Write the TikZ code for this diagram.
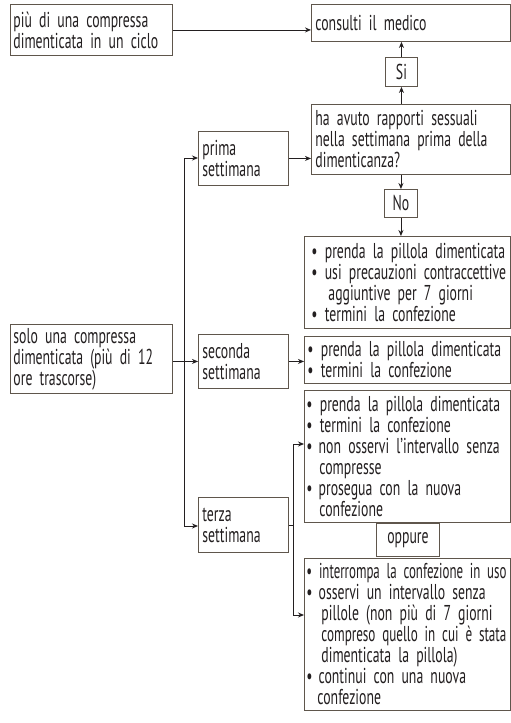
\documentclass[tikz,border=0pt]{standalone}
\usepackage{fontspec}
\usepackage{graphicx}
\setmainfont{PT Sans}[FakeStretch=0.64]
\usetikzlibrary{arrows.meta,calc}
\definecolor{ink}{RGB}{35,31,32}
\definecolor{edge}{RGB}{95,86,76}
\hyphenpenalty=10000
\spaceskip=3pt plus 2pt minus 1pt
\newcommand{\jl}[1]{\makebox[\linewidth][s]{#1}}
\newcommand{\fitline}[2]{\resizebox{#1}{\height}{#2}}
\tikzset{
  box/.style={draw=edge, line width=0.9pt, anchor=north west, inner ysep=0pt, inner xsep=4pt, align=left, text=ink,
     font=\fontsize{21.5}{21}\selectfont},
  con/.style={draw=ink, line width=0.9pt},
  arr/.style={con, -{Stealth[length=6pt,width=5pt]}},
}
\begin{document}
\begin{tikzpicture}[x=1pt,y=-1pt]
\useasboundingbox[fill=white] (0,0) rectangle (511,723);
\node[box, minimum width=162pt, minimum height=51pt, text width=156pt, inner xsep=3pt] (A) at (10,4) {più di una compressa\\dimenticata in un ciclo};
\node[box, minimum width=199pt, minimum height=37pt, text width=191pt] (cons) at (311,4) {consulti il medico};
\node[box, minimum width=32pt, minimum height=29pt, align=center, inner xsep=0pt] (si) at (385,57) {Si};
\node[box, minimum width=199pt, minimum height=70pt, text width=191pt] (q) at (311,104) {\jl{ha avuto rapporti sessuali}\\\jl{nella settimana prima della}\\dimenticanza?};
\node[box, minimum width=33pt, minimum height=28pt, align=center, inner xsep=0pt] (no) at (384,189) {No};
\node[box, minimum width=206pt, minimum height=92pt, text width=202pt, inner xsep=2pt] (L1) at (304,236) {\hspace*{5pt}• prenda la pillola dimenticata\\\hspace*{5pt}• usi precauzioni contraccettive\\\hspace*{22pt}aggiuntive per 7 giorni\\\hspace*{5pt}• termini la confezione};
\node[box, minimum width=90pt, minimum height=54pt, text width=82pt] (prima) at (198,131) {prima\\settimana};
\node[box, minimum width=162pt, minimum height=69pt, text width=156pt, inner xsep=3pt] (solo) at (10,324) {solo una compressa\\\jl{dimenticata (più di 12}\\ore trascorse)};
\node[box, minimum width=90pt, minimum height=54pt, text width=82pt] (sec) at (198,334) {seconda\\settimana};
\node[box, minimum width=206pt, minimum height=47pt, text width=202pt, inner xsep=2pt] (L2) at (304,336) {\hspace*{1pt}• prenda la pillola dimenticata\\\hspace*{1pt}• termini la confezione};
\node[box, minimum width=90pt, minimum height=55pt, text width=82pt] (terza) at (198,497) {terza\\settimana};
\node[box, minimum width=206pt, minimum height=132pt, text width=202pt, inner xsep=2pt] (L3) at (304,390) {• prenda la pillola dimenticata\\• termini la confezione\\•\hspace{6pt}non osservi l’intervallo senza\\\hspace*{13pt}compresse\\•\hspace{6pt}prosegua con la nuova\\\hspace*{13pt}confezione};
\node[box, minimum width=63pt, minimum height=33pt, align=center, inner xsep=0pt] (opp) at (376,523) {oppure};
\node[box, minimum width=206pt, minimum height=152pt, text width=202pt, inner xsep=2pt] (L4) at (304,558) {\fitline{200pt}{• interrompa la confezione in uso}\\\makebox[200pt][s]{•\hspace{6pt}osservi un intervallo senza}\\\hspace*{15pt}\makebox[185pt][s]{pillole (non più di 7 giorni}\\\hspace*{15pt}\fitline{185pt}{compreso quello in cui è stata}\\\hspace*{15pt}dimenticata la pillola)\\\makebox[200pt][s]{•\hspace{6pt}continui con una nuova}\\\hspace*{11pt}confezione};
% connectors
\draw[arr] (A.east) -- (A.east -| cons.west);
\draw[arr] (q.north -| si.south) -- (si.south);
\draw[arr] (si.north) -- (si.north |- cons.south);
\draw[arr] (no.north |- q.south) -- (no.north);
\draw[arr] (no.south) -- (no.south |- L1.north);
\draw[arr] (prima.east) -- (prima.east -| q.west);
\draw[arr] (sec.east) -- (sec.east -| L2.west);
\coordinate (s1) at (184,158);
\coordinate (s3) at (184,526);
\draw[con] (s1) -- (s3);
\draw[con] (solo.east |- sec.west) -- (sec.west -| s1);
\draw[arr] (sec.west -| s1) -- (sec.west);
\draw[arr] (s1) -- (s1 -| prima.west);
\draw[arr] (s3) -- (s3 -| terza.west);
\coordinate (t3) at (293,444);
\coordinate (t4) at (293,615);
\draw[con] (t3) -- (t4);
\draw[con] (terza.east) -- (terza.east -| t3);
\draw[arr] (t3) -- (t3 -| L3.west);
\draw[arr] (t4) -- (t4 -| L4.west);
\end{tikzpicture}
\end{document}
